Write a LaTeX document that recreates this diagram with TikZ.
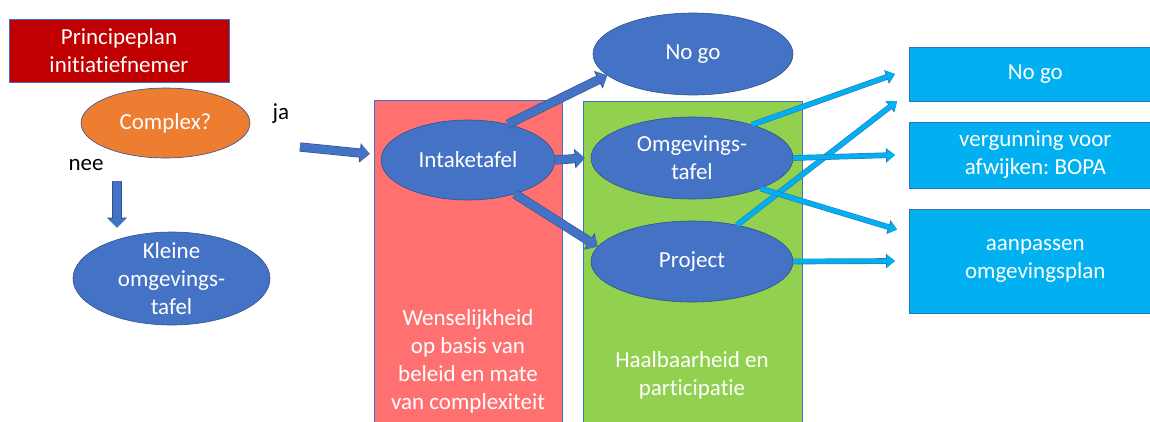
\documentclass[tikz,border=0pt]{standalone}
\usepackage{fontspec}
\setmainfont{Carlito}[Ligatures=NoCommon]
\usetikzlibrary{arrows.meta}
\usetikzlibrary{shapes}
\usetikzlibrary{calc}
\frenchspacing

\definecolor{donkerrood}{HTML}{C00000}
\definecolor{oranje}{HTML}{ED7D31}
\definecolor{blauw}{HTML}{4472C4}
\definecolor{blauwrand}{HTML}{2F528F}
\definecolor{zalm}{HTML}{FF7171}
\definecolor{groen}{HTML}{92D050}
\definecolor{lichtblauw}{HTML}{00B0F0}
\definecolor{lichtrand}{HTML}{2E75B6}

\begin{document}
\begin{tikzpicture}[x=1bp, y=-1bp,
    tekst/.style={font=\fontsize{23bp}{28bp}\selectfont, align=center},
    wit/.style={tekst, text=white},
    bol/.style={wit, ellipse, draw=blauwrand, fill=blauw, line width=0.6bp, inner sep=0pt},
    blok/.style={wit, rectangle, line width=0.6bp, inner sep=0pt},
    fase/.style={rectangle, draw=blauw, line width=0.8bp, anchor=north west},
    pijl/.style={draw=blauw, line width=8bp, -{Triangle[length=9bp,width=17bp]},
      preaction={draw=blauwrand, line width=9.2bp, -{Triangle[length=10bp,width=19bp]}}},
    lichtpijl/.style={draw=lichtblauw, line width=4.5bp, -{Triangle[length=8bp,width=12bp]},
      preaction={draw=lichtrand, line width=5.7bp, -{Triangle[length=9bp,width=14bp]}}}]
      \useasboundingbox (0,0) rectangle (1150,421);

      \node[fase, fill=zalm, minimum width=188bp, minimum height=330bp] (wens) at (374,100) {};
      \node[fase, fill=groen, minimum width=219bp, minimum height=330bp] (haal) at (583,101) {};
      \node[wit] (wenstekst) at (468,361.5) {Wenselijkheid\\op basis van\\beleid en mate\\van complexiteit};
      \node[wit] (haaltekst) at (692,375.5) {Haalbaarheid en\\participatie};

      \node[blok, fill=donkerrood, draw=blauw, minimum width=220bp, minimum height=63bp] (plan) at (119,50.5) {Principeplan\\initiatiefnemer};
      \node[bol, fill=oranje, minimum width=169bp, minimum height=70bp] (complex) at (165.5,123) {Complex?};
      \node[tekst] (ja) at (281,114) {ja};
      \node[tekst] (nee) at (86,165) {nee};
      \node[bol, minimum width=197bp, minimum height=93bp, inner ysep=-12bp] (kleine) at (171.5,278.5) {Kleine\\omgevings-\\tafel};

      \node[bol, minimum width=174bp, minimum height=80bp] (intake) at (468,160) {Intaketafel};
      \node[bol, minimum width=200bp, minimum height=82bp] (nogo) at (693,54) {No go};
      \node[bol, minimum width=202bp, minimum height=82bp] (omg) at (692,158) {Omgevings-\\tafel};
      \node[bol, minimum width=202bp, minimum height=81bp] (project) at (692,261.5) {Project};

      \node[blok, fill=lichtblauw, draw=lichtrand, minimum width=252bp, minimum height=54bp, anchor=west] (nogo2) at (909,74) {No go};
      \node[blok, fill=lichtblauw, draw=lichtrand, minimum width=252bp, minimum height=66bp, anchor=west] (verg) at (909,155) {vergunning voor\\afwijken: BOPA};
      \node[blok, fill=lichtblauw, draw=lichtrand, minimum width=252bp, minimum height=104bp, anchor=west] (aanp) at (909,261) {aanpassen\\omgevingsplan};

      \coordinate (jastart) at (300,147);
      \coordinate (neestart) at (117,181);
      \draw[pijl] (jastart) -- ([xshift=-11bp,yshift=6bp]intake.west);
      \draw[pijl] (neestart) -- ($(neestart |- kleine.north)+(0,-4)$);
      \draw[pijl] (intake.42) -- (nogo.194);
      \draw[pijl] (intake.east) -- ([xshift=-6bp]omg.west);
      \draw[pijl] (intake.-36) -- (project.171);

      \draw[lichtpijl] (omg.29) -- ([xshift=-14bp]nogo2.west);
      \draw[lichtpijl] (project.39) -- ([xshift=-12bp]nogo2.south west);
      \draw[lichtpijl] (omg.east) -- ([xshift=-14bp]verg.west);
      \draw[lichtpijl] (omg.-24) -- ($(aanp.north west)!0.4!(aanp.west)+(-12,0)$);
      \draw[lichtpijl] (project.east) -- ([xshift=-14bp]aanp.west);
    \end{tikzpicture}
\end{document}
